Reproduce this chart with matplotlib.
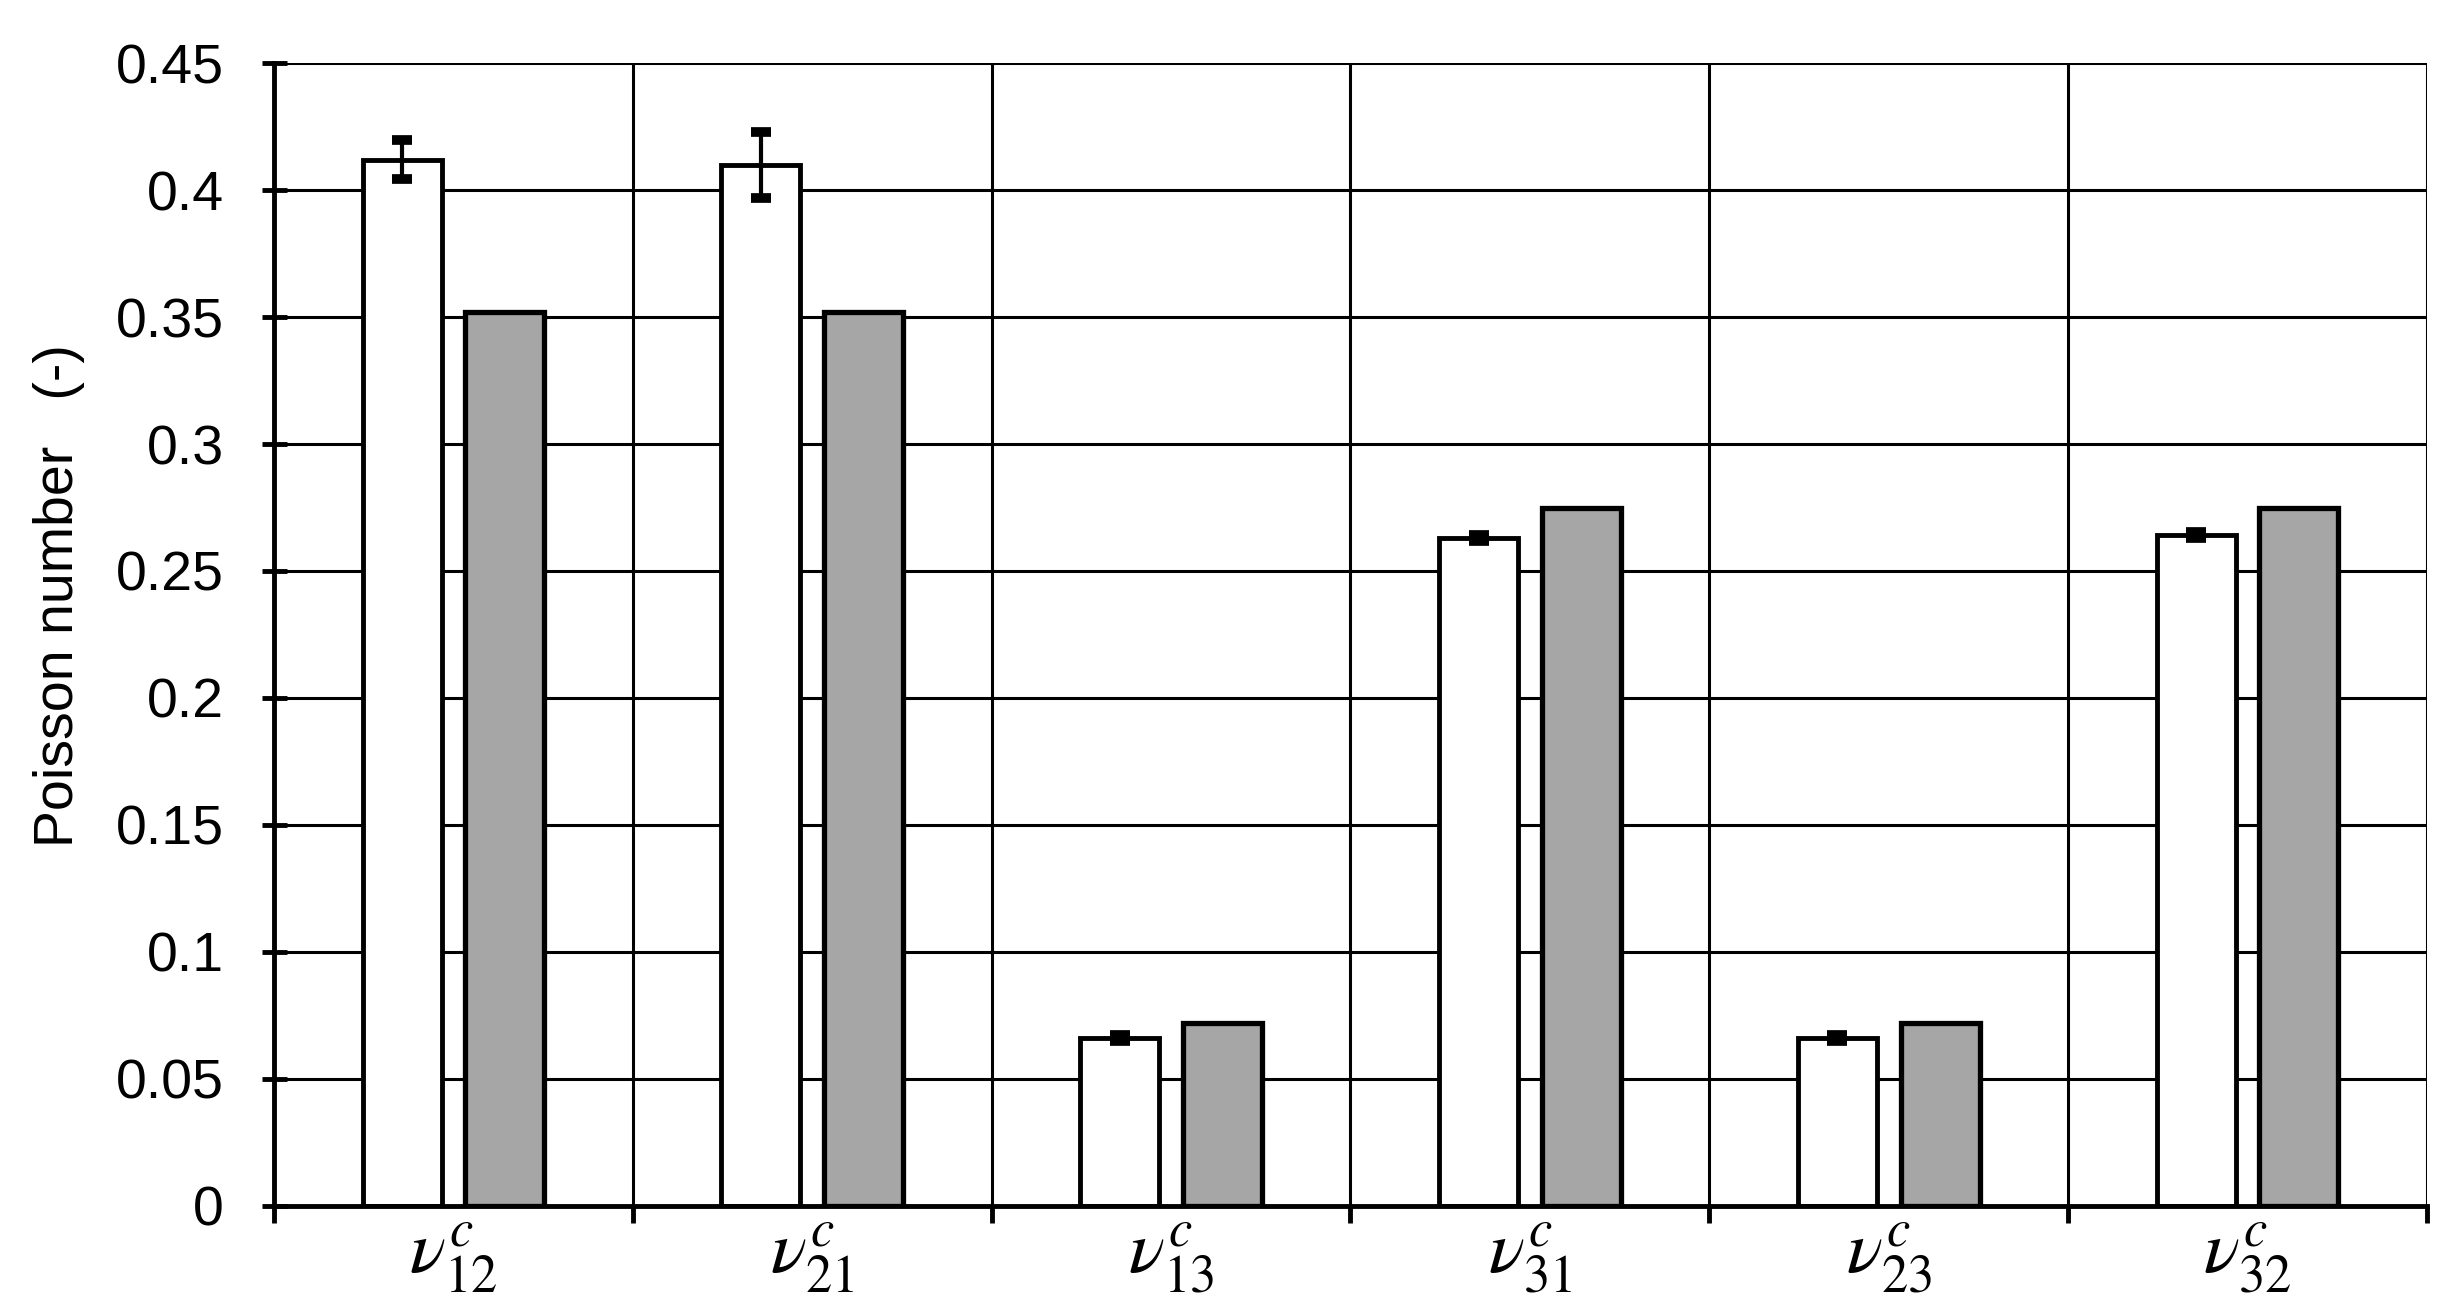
import matplotlib.pyplot as plt
import numpy as np

plt.rcParams["font.family"] = ["Liberation Sans", "DejaVu Sans"]
plt.rcParams["mathtext.fontset"] = "stix"

# data
labels = [r"$\nu^c_{12}$", r"$\nu^c_{21}$", r"$\nu^c_{13}$",
          r"$\nu^c_{31}$", r"$\nu^c_{23}$", r"$\nu^c_{32}$"]
measured = [0.412, 0.410, 0.066, 0.263, 0.066, 0.264]
measured_err = [0.0075, 0.013, 0.0012, 0.0012, 0.0012, 0.0012]
model = [0.352, 0.352, 0.072, 0.275, 0.072, 0.275]
y_ticks = [0, 0.05, 0.1, 0.15, 0.2, 0.25, 0.3, 0.35, 0.4, 0.45]
y_tick_labels = ["0", "0.05", "0.1", "0.15", "0.2", "0.25", "0.3", "0.35", "0.4", "0.45"]

fig = plt.figure(figsize=(24.59, 13.10), dpi=100)
ax = fig.add_axes([0.1114, 0.0794, 0.8756, 0.8725])

x = np.arange(len(labels))
width = 0.22
off = 0.143

# grid first
for yv in y_ticks[1:]:
    ax.axhline(yv, color="black", linewidth=2.2, zorder=0)
for xv in np.arange(len(labels) + 1) - 0.5:
    ax.axvline(xv, color="black", linewidth=2.2, zorder=0)

ax.bar(x - off, measured, width, color="white", edgecolor="black",
       linewidth=3.5, zorder=2)
ax.errorbar(x - off, measured, yerr=measured_err, fmt="none", ecolor="black",
            elinewidth=3, capsize=7, capthick=7, zorder=3)
ax.bar(x + off, model, width, color="#A6A6A6", edgecolor="black",
       linewidth=3.8, zorder=2)

ax.set_xlim(-0.5, len(labels) - 0.5)
ax.set_ylim(0, 0.45)

ax.set_yticks(y_ticks)
ax.set_yticklabels(y_tick_labels, fontsize=40)
ax.tick_params(axis="y", direction="inout", length=18, width=3.5, pad=27)

ax.set_xticks(x)
ax.set_xticklabels(labels, fontsize=54)
ax.tick_params(axis="x", which="major", length=0, pad=10)
ax.set_xticks(np.arange(len(labels) + 1) - 0.5, minor=True)
ax.tick_params(axis="x", which="minor", direction="out", length=12, width=3.5)

ax.spines["top"].set_visible(False)
ax.spines["right"].set_visible(False)
ax.spines["left"].set_linewidth(3.5)
ax.spines["bottom"].set_linewidth(3.5)
ax.spines["left"].set_zorder(4)
ax.spines["bottom"].set_zorder(4)

ax.set_ylabel("Poisson number   (-)", fontsize=40, labelpad=22)
ax.yaxis.label.set_y(0.534)

fig.savefig("out.png", dpi=100)
